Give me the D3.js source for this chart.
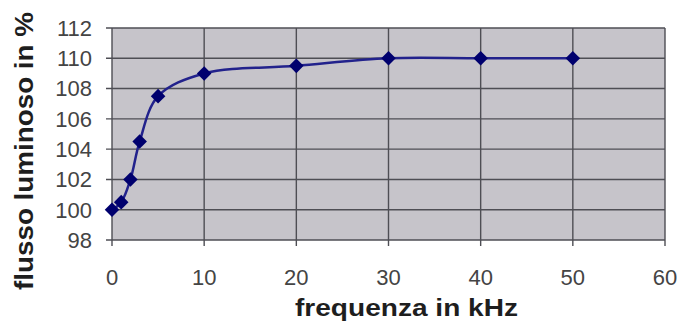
<!DOCTYPE html>
<html><head><meta charset="utf-8">
<script src="https://cdn.jsdelivr.net/npm/d3@7"></script>
<style>body{margin:0;background:#fff}svg{display:block}</style>
</head><body>
<script>
const freq = [0, 1, 2, 3, 5, 10, 20, 30, 40, 50];
const flux = [100, 100.5, 102, 104.5, 107.5, 109, 109.5, 110, 110, 110];
const xTicks = [0, 10, 20, 30, 40, 50, 60];
const yTicks = [98, 100, 102, 104, 106, 108, 110, 112];
const xTitle = "frequenza in kHz";
const yTitle = "flusso luminoso in %";

const W = 680, H = 327;
const m = {left: 112, right: 15, top: 28, bottom: 87};
const svg = d3.select("body").append("svg").attr("width", W).attr("height", H);
const x = d3.scaleLinear().domain([0, 60]).range([m.left, W - m.right]);
const y = d3.scaleLinear().domain([98, 112]).range([H - m.bottom, m.top]);

svg.append("rect").attr("x", x(0)).attr("y", y(112))
  .attr("width", x(60) - x(0)).attr("height", y(98) - y(112))
  .attr("fill", "#c6c4ca");

const gridC = "#4e4e54";
svg.append("g").selectAll("line").data(yTicks).join("line")
  .attr("x1", x(0) - 6).attr("x2", x(60)).attr("y1", d => y(d)).attr("y2", d => y(d))
  .attr("stroke", gridC).attr("stroke-width", 1.4);
svg.append("g").selectAll("line").data(xTicks).join("line")
  .attr("y1", y(112)).attr("y2", y(98) + 6).attr("x1", d => x(d)).attr("x2", d => x(d))
  .attr("stroke", gridC).attr("stroke-width", 1.4);

const font = "'Liberation Sans', Arial, sans-serif";
svg.append("g").selectAll("text").data(yTicks).join("text")
  .attr("x", 92).attr("y", d => y(d)).attr("dy", "0.36em")
  .attr("text-anchor", "end").attr("font-family", font).attr("font-size", 22)
  .attr("fill", "#444").text(d => d);
svg.append("g").selectAll("text").data(xTicks).join("text")
  .attr("x", d => x(d)).attr("y", 277).attr("dy", "0.36em")
  .attr("text-anchor", "middle").attr("font-family", font).attr("font-size", 22)
  .attr("fill", "#444").text(d => d);

svg.append("text").attr("x", 295).attr("y", 316)
  .attr("textLength", 223).attr("lengthAdjust", "spacingAndGlyphs")
  .attr("font-family", font).attr("font-size", 23).attr("font-weight", "bold")
  .attr("fill", "#1e1e1e").text(xTitle);
svg.append("text").attr("transform", `translate(33,290) rotate(-90)`)
  .attr("textLength", 278).attr("lengthAdjust", "spacingAndGlyphs")
  .attr("font-family", font).attr("font-size", 26).attr("font-weight", "bold")
  .attr("fill", "#1e1e1e").text(yTitle);

const pts = freq.map((f, i) => [f, flux[i]]);
const line = d3.line().x(d => x(d[0])).y(d => y(d[1])).curve(d3.curveCatmullRom.alpha(0.5));
svg.append("path").attr("d", line(pts)).attr("fill", "none")
  .attr("stroke", "#22228c").attr("stroke-width", 2.5);
svg.append("g").selectAll("path").data(pts).join("path")
  .attr("transform", d => `translate(${x(d[0])},${y(d[1])})`)
  .attr("d", d3.symbol(d3.symbolDiamond2, 135))
  .attr("fill", "#00006e");
</script>
</body></html>
